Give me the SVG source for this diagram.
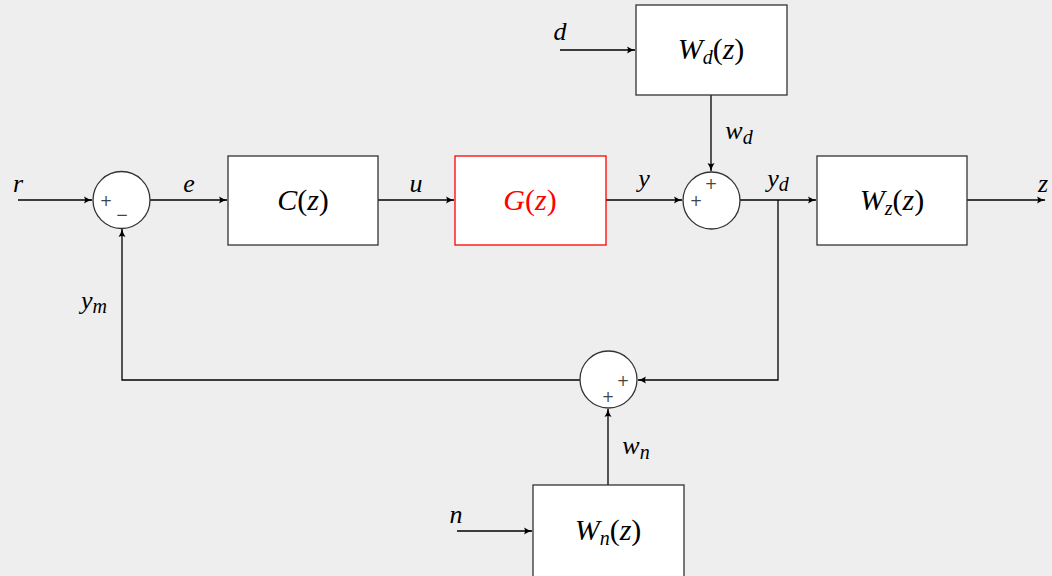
<svg xmlns="http://www.w3.org/2000/svg" width="1052" height="576" viewBox="0 0 1052 576">
<defs>
<marker id="arr" viewBox="0 0 10 10" refX="9" refY="5" markerWidth="10" markerHeight="10" markerUnits="userSpaceOnUse" orient="auto">
<path d="M1,1.5 Q5,4.2 9.5,5 Q5,5.8 1,8.5 Q3,5 1,1.5 Z" fill="#000"/>
</marker>
<style>
.box{fill:#fff;stroke:#333;stroke-width:1.3}
.sum{fill:#fff;stroke:#333;stroke-width:1.3}
.ln{fill:none;stroke:#000;stroke-width:1.3}
.t{font-family:"Liberation Serif","DejaVu Serif",serif;font-size:30px;fill:#000}
.lb{font-family:"Liberation Serif","DejaVu Serif",serif;font-size:26px;font-style:italic;fill:#000}
.i{font-style:italic}
.sub{font-size:20px;font-style:italic}
.sg{font-family:"DejaVu Sans",sans-serif;font-size:15px;fill:#444}
</style>
</defs>
<rect width="1052" height="576" fill="#eeeeee"/>
<g id="connectors">
<path class="ln" d="M18,200 H92" marker-end="url(#arr)"/>
<path class="ln" d="M150,200 H227" marker-end="url(#arr)"/>
<path class="ln" d="M378,200 H454" marker-end="url(#arr)"/>
<path class="ln" d="M606,200 H682" marker-end="url(#arr)"/>
<path class="ln" d="M740,200 H816" marker-end="url(#arr)"/>
<path class="ln" d="M967,200 H1045" marker-end="url(#arr)"/>
<path class="ln" d="M560,50 H635" marker-end="url(#arr)"/>
<path class="ln" d="M711,95 V171" marker-end="url(#arr)"/>
<path class="ln" d="M778,200 V380 H638" marker-end="url(#arr)"/>
<path class="ln" d="M580,380 H122 V229" marker-end="url(#arr)"/>
<path class="ln" d="M608,485 V409" marker-end="url(#arr)"/>
<path class="ln" d="M457,531 H532" marker-end="url(#arr)"/>
</g>
<g id="sum1">
<circle class="sum" cx="121.5" cy="200" r="28.5"/>
<text class="sg" x="106" y="206" text-anchor="middle">+</text>
<text class="sg" x="122" y="220" text-anchor="middle">−</text>
</g>
<g id="C">
<rect class="box" x="228" y="156" width="150" height="89"/>
<text class="t" x="303" y="210" text-anchor="middle"><tspan class="i">C</tspan>(<tspan class="i">z</tspan>)</text>
</g>
<g id="G">
<rect class="box" x="455" y="156" width="151" height="89" style="stroke:#ff0000"/>
<text class="t" x="530" y="210" text-anchor="middle" style="fill:#ff0000"><tspan class="i">G</tspan>(<tspan class="i">z</tspan>)</text>
</g>
<g id="sum2">
<circle class="sum" cx="711.5" cy="200.5" r="28.5"/>
<text class="sg" x="711" y="189" text-anchor="middle">+</text>
<text class="sg" x="696" y="206" text-anchor="middle">+</text>
</g>
<g id="Wz">
<rect class="box" x="817" y="156" width="150" height="89"/>
<text class="t" x="892" y="210" text-anchor="middle"><tspan class="i">W</tspan><tspan class="sub" dy="5">z</tspan><tspan dy="-5">(</tspan><tspan class="i">z</tspan>)</text>
</g>
<g id="Wd">
<rect class="box" x="636" y="5" width="151" height="90"/>
<text class="t" x="711" y="59" text-anchor="middle"><tspan class="i">W</tspan><tspan class="sub" dy="5">d</tspan><tspan dy="-5">(</tspan><tspan class="i">z</tspan>)</text>
</g>
<g id="sum3">
<circle class="sum" cx="608.5" cy="379.5" r="28.5"/>
<text class="sg" x="623" y="386" text-anchor="middle">+</text>
<text class="sg" x="608" y="402" text-anchor="middle">+</text>
</g>
<g id="Wn">
<rect class="box" x="533" y="485" width="151" height="100"/>
<text class="t" x="608" y="540" text-anchor="middle"><tspan class="i">W</tspan><tspan class="sub" dy="5">n</tspan><tspan dy="-5">(</tspan><tspan class="i">z</tspan>)</text>
</g>
<g id="labels">
<text class="lb" x="18" y="192" text-anchor="middle">r</text>
<text class="lb" x="189" y="192" text-anchor="middle">e</text>
<text class="lb" x="416" y="192" text-anchor="middle">u</text>
<text class="lb" x="644" y="187" text-anchor="middle">y</text>
<text class="lb" x="778" y="187" text-anchor="middle">y<tspan class="sub" dy="4">d</tspan></text>
<text class="lb" x="1043" y="192" text-anchor="middle">z</text>
<text class="lb" x="560" y="40" text-anchor="middle">d</text>
<text class="lb" x="739" y="139" text-anchor="middle">w<tspan class="sub" dy="5">d</tspan></text>
<text class="lb" x="94" y="309" text-anchor="middle">y<tspan class="sub" dy="4">m</tspan></text>
<text class="lb" x="636" y="454" text-anchor="middle">w<tspan class="sub" dy="5">n</tspan></text>
<text class="lb" x="456" y="523" text-anchor="middle">n</text>
</g>
</svg>
